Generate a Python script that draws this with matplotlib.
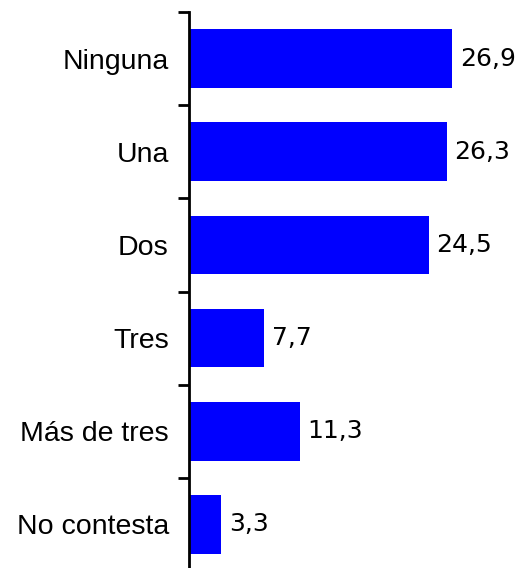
import matplotlib; matplotlib.use("Agg")
import numpy as np, matplotlib.pyplot as plt

categorias = ["Ninguna", "Una", "Dos", "Tres", "Más de tres", "No contesta"]
valores = [26.9, 26.3, 24.5, 7.7, 11.3, 3.3]
etiquetas = ["26,9", "26,3", "24,5", "7,7", "11,3", "3,3"]

W, H = 522, 568
fig = plt.figure(figsize=(W / 100, H / 100), dpi=100)
ax = fig.add_axes([189 / W, (H - 571) / H, (W - 189) / W, 559 / H])

y = np.arange(len(categorias))
ax.barh(y, valores, height=0.63, color="#0000FF")
for yi, v, t in zip(y, valores, etiquetas):
    ax.text(v + 0.75, yi, t, va="center", ha="left", fontsize=18,
            family="DejaVu Sans", color="black")

ax.set_xlim(0, 34)
ax.set_ylim(len(categorias) - 0.5, -0.5)
for s in ("top", "right", "bottom"):
    ax.spines[s].set_visible(False)
ax.spines["left"].set_linewidth(2)
ax.set_xticks([])
ax.set_yticks(np.arange(len(categorias) + 1) - 0.5)
ax.set_yticklabels([])
ax.tick_params(axis="y", which="major", length=8, width=2, direction="out")
ax.set_yticks(y, minor=True)
ax.set_yticklabels(categorias, minor=True, fontsize=20.5, family="Liberation Sans")
ax.tick_params(axis="y", which="minor", length=0, pad=14.5)

fig.savefig("out.png", dpi=100)
